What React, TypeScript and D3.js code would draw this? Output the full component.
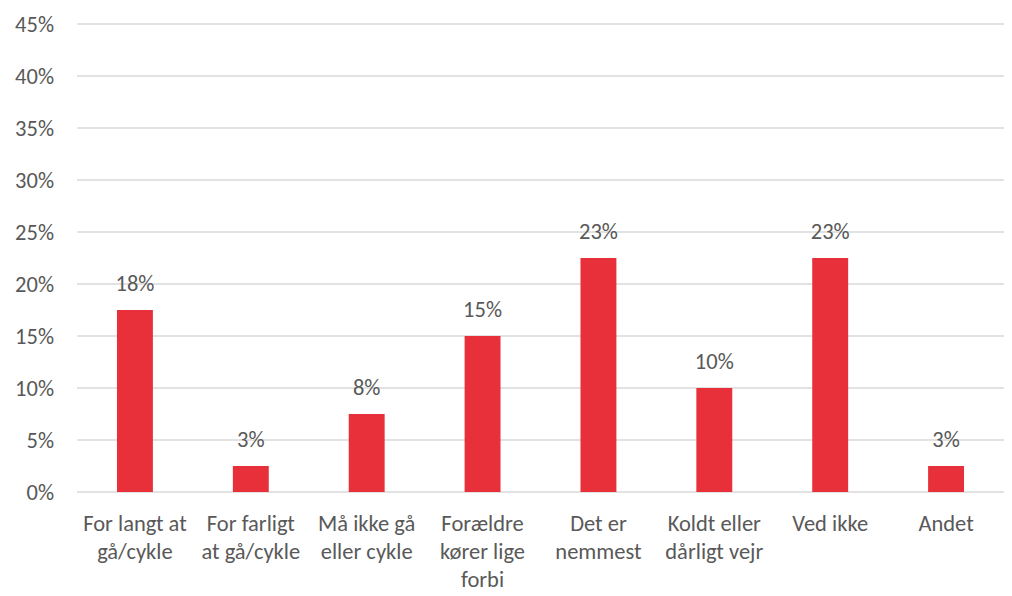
import React from "react";
import * as d3 from "d3";

const categories: string[][] = [
  ["For langt at", "gå/cykle"],
  ["For farligt", "at gå/cykle"],
  ["Må ikke gå", "eller cykle"],
  ["Forældre", "kører lige", "forbi"],
  ["Det er", "nemmest"],
  ["Koldt eller", "dårligt vejr"],
  ["Ved ikke"],
  ["Andet"],
];
const values: number[] = [17.5, 2.5, 7.5, 15, 22.5, 10, 22.5, 2.5];
const labels: string[] = ["18%", "3%", "8%", "15%", "23%", "10%", "23%", "3%"];
const yTicks: number[] = [0, 5, 10, 15, 20, 25, 30, 35, 40, 45];

const W = 1012;
const H = 596;
const left = 77;
const right = 1004;
const top = 24;
const bottom = 492;
const font = "Carlito, Calibri, 'Liberation Sans', Arial, sans-serif";
const textColor = "#595959";
const fs = 22.5;

export default function App() {
  const x = d3
    .scaleBand<number>()
    .domain(values.map((_, i) => i))
    .range([left, right])
    .paddingInner(0.69)
    .paddingOuter(0.345);
  const y = d3.scaleLinear().domain([0, 45]).range([bottom, top]);

  return (
    <svg
      width={W}
      height={H}
      style={{ position: "absolute", left: 0, top: 0, background: "#fff" }}
    >
      {yTicks.map((t) => (
        <g key={t}>
          <line
            x1={left}
            x2={right}
            y1={y(t)}
            y2={y(t)}
            stroke="#d9d9d9"
            strokeWidth={1.6}
          />
          <text
            x={54}
            y={y(t) + 7.5}
            textAnchor="end"
            fontFamily={font}
            fontSize={fs}
            fill={textColor}
          >
            {t}%
          </text>
        </g>
      ))}
      {values.map((v, i) => {
        const bx = x(i)!;
        const cx = bx + x.bandwidth() / 2;
        return (
          <g key={i}>
            <rect
              x={bx}
              y={y(v)}
              width={x.bandwidth()}
              height={y(0) - y(v)}
              fill="#e8303a"
            />
            <text
              x={cx}
              y={y(v) - 19}
              textAnchor="middle"
              fontFamily={font}
              fontSize={fs}
              fill={textColor}
            >
              {labels[i]}
            </text>
            {categories[i].map((line, j) => (
              <text
                key={j}
                x={cx}
                y={531 + j * 28}
                textAnchor="middle"
                fontFamily={font}
                fontSize={fs}
                fill={textColor}
              >
                {line}
              </text>
            ))}
          </g>
        );
      })}
    </svg>
  );
}
